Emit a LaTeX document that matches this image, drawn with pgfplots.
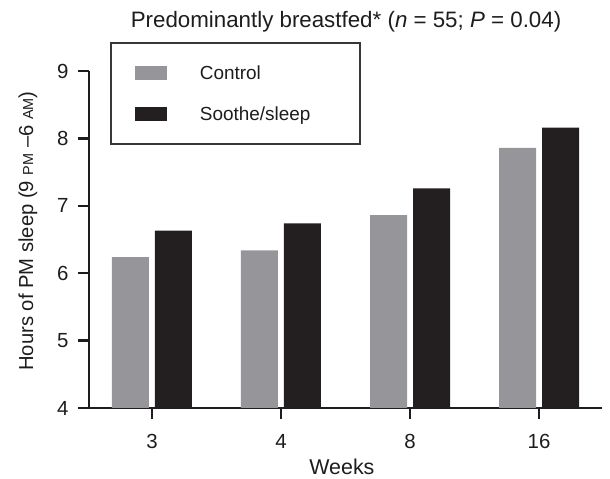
\documentclass[border=0pt]{standalone}
\usepackage{fontspec}
\setmainfont{Liberation Sans}
\usepackage{pgfplots}
\pgfplotsset{compat=1.18}
\definecolor{ctrl}{RGB}{150,150,154}
\definecolor{soothe}{RGB}{35,31,32}
\definecolor{ink}{RGB}{30,28,30}
\definecolor{legframe}{RGB}{55,55,55}
\newcommand{\fs}[1]{\fontsize{#1}{#1}\selectfont}
\pgfplotsset{swatch/.style={legend image code/.code={\fill[##1] (0bp,-7bp) rectangle (32bp,7bp);}}}
\begin{document}
\begin{tikzpicture}[x=1bp,y=1bp]
\path[use as bounding box] (-89,-71) rectangle (521,408);
\begin{axis}[
  at={(0,0)}, anchor=south west,
  scale only axis, width=513bp, height=337bp,
  xmin=-0.488, xmax=3.488, ymin=4, ymax=9,
  axis x line*=bottom, axis y line*=left,
  axis line style={line width=2.5bp, color=ink},
  xtick={0,1,2,3}, xticklabels={3,4,8,16},
  ytick={4,5,6,7,8,9},
  tick align=outside, major tick length=11bp,
  tick style={line width=2.5bp, color=ink},
  /pgf/number format/assume math mode=true,
  ticklabel style={font=\fs{20.5}, text=ink},
  xticklabel style={yshift=-12bp},
  yticklabel style={xshift=-6bp},
  ybar=6bp, bar width=37bp,
  title={Predominantly breastfed* (\textit{n} = 55; \textit{P} = 0.04)},
  title style={at={(axis description cs:0.501,1)}, anchor=base, yshift=38bp, font=\fs{22.4}, text=ink},
  xlabel={Weeks},
  xlabel style={at={(axis description cs:0.493,0)}, anchor=base, yshift=-66bp, font=\fs{21.5}, text=ink},
  ylabel={Hours of PM sleep (9 {\fs{14.5}PM} –6 {\fs{14.5}AM})},
  ylabel style={at={(axis description cs:-0.109,0.525)}, anchor=base, font=\fs{20.3}, text=ink},
  legend style={at={(axis description cs:0.0409,1.086)}, anchor=north west,
    draw=legframe, line width=1.8bp, fill=white,
    inner xsep=24bp, inner ysep=21.5bp, row sep=24bp, column sep=33bp,
    font=\fs{19}, text=ink,
    nodes={inner sep=0pt, text height=15bp, text depth=2bp}},
  legend cell align=left,
]
\addplot[fill=ctrl, draw=none, swatch] coordinates {(0,6.24) (1,6.34) (2,6.86) (3,7.86)};
\addplot[fill=soothe, draw=none, swatch] coordinates {(0,6.63) (1,6.74) (2,7.26) (3,8.16)};
\addlegendentry{\makebox[136bp][l]{Control}}
\addlegendentry{\makebox[136bp][l]{Soothe/sleep}}
\end{axis}
\end{tikzpicture}
\end{document}
